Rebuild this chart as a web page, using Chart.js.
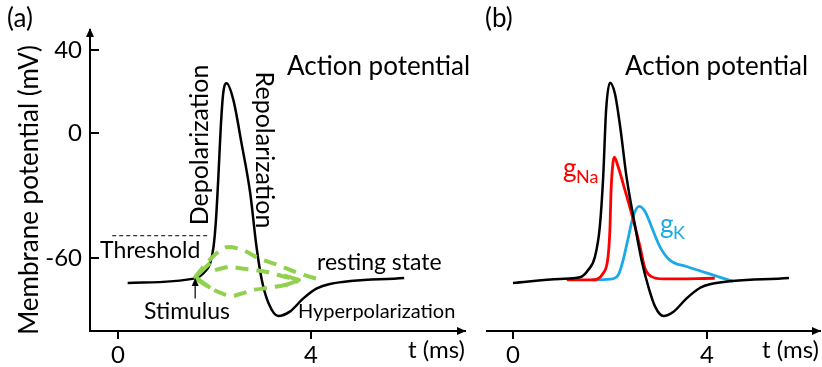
<!DOCTYPE html>
<html lang="en">
<head>
<meta charset="UTF-8" />
<title>Action potential</title>
<script src="https://cdn.jsdelivr.net/npm/chart.js"></script>
<style>
  body { margin: 0; background: #fff; width: 822px; height: 367px; position: relative; overflow: hidden; }
  canvas { position: absolute; top: 0; }
  #chartA { left: 0; }
  #chartB { left: 478px; }
</style>
</head>
<body>
<canvas id="chartA" width="478" height="367"></canvas>
<canvas id="chartB" width="344" height="367"></canvas>

<script>
// --- panel (a): membrane potential (mV) vs time (ms)
const tA = [0.2, 1.6, 1.8, 1.91, 1.98, 2.03, 2.08, 2.13, 2.18, 2.25, 2.39, 2.56, 2.74, 2.87, 2.98, 3.12, 3.32, 3.56, 3.84, 4.12, 4.39, 5.93];
const vA = [-72.0, -69.8, -66.6, -62.5, -54.6, -41.7, -20.9, 3.1, 19.2, 24.0, 16.0, -4.9, -28.9, -54.6, -70.6, -81.8, -87.9, -85.8, -79.4, -74.6, -72.5, -69.6];

// threshold level and the stimulus instant
const tThreshold = [-0.12, 1.91];
const vThreshold = -49.3;
const tStimulus = 1.6;
const vStimulus = [-79.5, -69.6];

// dashed green loop (refractory cycle) around the spike foot
const tLoopTop = [1.60, 1.80, 2.05, 2.28, 2.59, 2.90, 3.32, 3.73, 4.21];
const vLoopTop = [-69.1, -63.4, -57.6, -54.7, -56.2, -60.0, -63.4, -67.2, -70.6];
const tLoopMid = [2.01, 2.18, 2.32, 2.49, 2.84, 3.09, 3.46, 3.73];
const vLoopMid = [-65.8, -64.8, -64.2, -64.8, -65.8, -66.7, -69.1, -70.6];
const tLoopLow = [1.62, 1.91, 2.18, 2.36, 2.53, 2.80, 3.09, 3.46, 3.73];
const vLoopLow = [-70.1, -74.4, -77.3, -78.3, -77.3, -75.4, -74.4, -73.0, -71.1];
const tHeadL = [1.91, 1.60, 1.91];
const vHeadL = [-62.4, -69.1, -74.4];
const tHeadR = [3.44, 3.75, 3.46];
const vHeadR = [-68.4, -70.6, -73.2];

// --- panel (b): potential plus Na / K conductances (normalised to peak gNa)
const tB = [0, 0.97, 1.38, 1.55, 1.69, 1.79, 1.86, 1.92, 2.0, 2.10, 2.21, 2.34, 2.52, 2.65, 2.79, 2.93, 3.10, 3.31, 3.58, 3.86, 4.06, 5.69];
const vB = [-72.0, -70.1, -69.3, -65.8, -59.4, -45.0, -20.9, 11.2, 24.3, 19.2, 3.1, -20.9, -45.0, -61.0, -73.8, -83.4, -87.9, -85.8, -79.4, -74.3, -72.6, -69.6];
const tNa = [1.11, 1.62, 1.86, 1.96, 2.0, 2.02, 2.06, 2.09, 2.17, 2.31, 2.48, 2.62, 2.72, 2.86, 3.10, 4.16];
const gNa = [0, 0, 0.055, 0.19, 0.43, 0.71, 0.95, 1.0, 0.92, 0.73, 0.49, 0.27, 0.095, 0.027, 0.008, 0.014];
const tK = [1.62, 2.0, 2.17, 2.27, 2.38, 2.48, 2.60, 2.72, 2.86, 3.03, 3.24, 3.58, 4.13, 4.54];
const gK = [0, 0.006, 0.04, 0.16, 0.35, 0.52, 0.60, 0.56, 0.43, 0.27, 0.16, 0.11, 0.04, -0.012];

// axes
const xTicks = [0, 4];
const yTicks = [40, 0, -60];
const yRange = [-95.1, 49.6];
const gRange = [-0.416, 2.037];
const xRangeA = [-0.58, 7.19];
const xRangeB = [-0.536, 6.33];

const FONT = 'Lato';
const GREEN = '#92D050';
const RED = '#FF0000';
const BLUE = '#1CAAE6';

Chart.defaults.font.family = FONT;
Chart.defaults.color = '#000';

const pts = (xs, ys) => xs.map((x, i) => ({ x, y: Array.isArray(ys) ? ys[i] : ys }));

function line(data, color, width, extra) {
  return Object.assign({
    data, borderColor: color, borderWidth: width, pointRadius: 0,
    fill: false, cubicInterpolationMode: 'monotone', order: 1
  }, extra || {});
}

function text(ctx, s, x, y, size, opts) {
  opts = opts || {};
  ctx.save();
  ctx.font = size + 'px ' + FONT;
  ctx.fillStyle = opts.color || '#000';
  ctx.textAlign = opts.align || 'left';
  ctx.textBaseline = 'alphabetic';
  ctx.translate(x, y);
  if (opts.rot) ctx.rotate(opts.rot);
  ctx.fillText(s, 0, 0);
  ctx.restore();
}

function arrowHead(ctx, x, y, dir) {
  ctx.save();
  ctx.fillStyle = '#000';
  ctx.beginPath();
  if (dir === 'up') {
    ctx.moveTo(x, y); ctx.lineTo(x - 4, y + 9); ctx.lineTo(x + 4, y + 9);
  } else {
    ctx.moveTo(x, y); ctx.lineTo(x - 9, y - 4); ctx.lineTo(x - 9, y + 4);
  }
  ctx.closePath();
  ctx.fill();
  ctx.restore();
}

function xScale(range) {
  return {
    type: 'linear', min: range[0], max: range[1],
    afterBuildTicks: s => { s.ticks = xTicks.map(v => ({ value: v })); },
    afterFit: s => { s.height = 36; },
    grid: { drawOnChartArea: false, color: '#000', lineWidth: 2, tickLength: 8 },
    border: { color: '#000', width: 2 },
    ticks: { font: { size: 24 }, padding: 2, maxRotation: 0 }
  };
}

// panel (a) decorations: arrows, inner ticks and labels
const panelA = {
  id: 'panelA',
  afterDraw(chart) {
    const { ctx, chartArea: a, scales } = chart;
    const x = scales.x, y = scales.y;
    arrowHead(ctx, a.left, a.top - 2, 'up');
    arrowHead(ctx, a.right + 1, a.bottom, 'right');

    ctx.save();
    ctx.strokeStyle = '#000';
    ctx.lineWidth = 2;
    yTicks.forEach(v => {
      const py = Math.round(y.getPixelForValue(v));
      ctx.beginPath(); ctx.moveTo(a.left, py); ctx.lineTo(a.left + 9, py); ctx.stroke();
    });
    // stimulus arrow
    const sx = x.getPixelForValue(tStimulus);
    const sy0 = y.getPixelForValue(vStimulus[0]);
    const sy1 = y.getPixelForValue(vStimulus[1]);
    ctx.strokeStyle = '#333';
    ctx.lineWidth = 1.5;
    ctx.beginPath(); ctx.moveTo(sx, sy0); ctx.lineTo(sx, sy1 + 5); ctx.stroke();
    ctx.fillStyle = '#000';
    ctx.beginPath(); ctx.moveTo(sx, sy1); ctx.lineTo(sx - 3.5, sy1 + 8); ctx.lineTo(sx + 3.5, sy1 + 8); ctx.closePath(); ctx.fill();
    ctx.restore();

    text(ctx, '(a)', 7, 27, 26);
    text(ctx, 'Membrane potential (mV)', 38, 190, 26, { rot: -Math.PI / 2, align: 'center' });
    text(ctx, 'Action potential', 287, 75, 26);
    text(ctx, 'Depolarization', 208, 145, 25, { rot: -Math.PI / 2, align: 'center' });
    text(ctx, 'Repolarization', 256, 150, 25, { rot: Math.PI / 2, align: 'center' });
    text(ctx, 'Threshold', 100, 258, 23);
    text(ctx, 'Stimulus', 144, 319, 23);
    text(ctx, 'resting state', 317, 270, 23);
    text(ctx, 'Hyperpolarization', 298, 318, 20);
    text(ctx, 't (ms)', 408, 358, 24);
  }
};

// panel (b) decorations
const panelB = {
  id: 'panelB',
  afterDraw(chart) {
    const { ctx, chartArea: a } = chart;
    arrowHead(ctx, a.right + 1, a.bottom, 'right');
    text(ctx, '(b)', 7, 27, 26);
    text(ctx, 'Action potential', 147, 75, 26);
    text(ctx, 'g', 85, 177, 26, { color: RED });
    text(ctx, 'Na', 98, 183, 18, { color: RED });
    text(ctx, 'g', 182, 233, 26, { color: BLUE });
    text(ctx, 'K', 195, 239, 18, { color: BLUE });
    text(ctx, 't (ms)', 284, 358, 24);
  }
};

const common = {
  responsive: false,
  animation: false,
  devicePixelRatio: 1,
  plugins: { legend: { display: false }, tooltip: { enabled: false } },
  elements: { line: { borderCapStyle: 'butt', borderJoinStyle: 'round' } }
};

new Chart(document.getElementById('chartA'), {
  type: 'line',
  data: {
    datasets: [
      line(pts(tA, vA), '#000', 2.5, { order: 2 }),
      line(pts(tThreshold, vThreshold), '#000', 1, { borderDash: [4, 3], order: 3 }),
      line(pts(tLoopTop, vLoopTop), GREEN, 4, { borderDash: [13, 8] }),
      line(pts(tLoopMid, vLoopMid), GREEN, 4, { borderDash: [13, 8] }),
      line(pts(tLoopLow, vLoopLow), GREEN, 4, { borderDash: [13, 8] }),
      line(pts(tHeadL, vHeadL), GREEN, 4, { cubicInterpolationMode: 'default', tension: 0 }),
      line(pts(tHeadR, vHeadR), GREEN, 4, { cubicInterpolationMode: 'default', tension: 0 })
    ]
  },
  options: Object.assign({}, common, {
    layout: { padding: { top: 30, right: 13, left: 0, bottom: 0 } },
    scales: {
      x: xScale(xRangeA),
      y: {
        type: 'linear', min: yRange[0], max: yRange[1],
        afterBuildTicks: s => { s.ticks = yTicks.map(v => ({ value: v })); },
        afterFit: s => { s.width = 90; },
        grid: { drawOnChartArea: false, drawTicks: false },
        border: { color: '#000', width: 2 },
        ticks: { font: { size: 24 }, padding: 8 }
      }
    }
  }),
  plugins: [panelA]
});

new Chart(document.getElementById('chartB'), {
  type: 'line',
  data: {
    datasets: [
      line(pts(tB, vB), '#000', 2.5, { order: 0 }),
      line(pts(tNa, gNa), RED, 2.8, { yAxisID: 'g' }),
      line(pts(tK, gK), BLUE, 2.8, { yAxisID: 'g' })
    ]
  },
  options: Object.assign({}, common, {
    layout: { padding: { top: 30, right: 2, left: 9, bottom: 0 } },
    scales: {
      x: xScale(xRangeB),
      y: { type: 'linear', display: false, min: yRange[0], max: yRange[1] },
      g: { type: 'linear', display: false, min: gRange[0], max: gRange[1] }
    }
  }),
  plugins: [panelB]
});
</script>
</body>
</html>
